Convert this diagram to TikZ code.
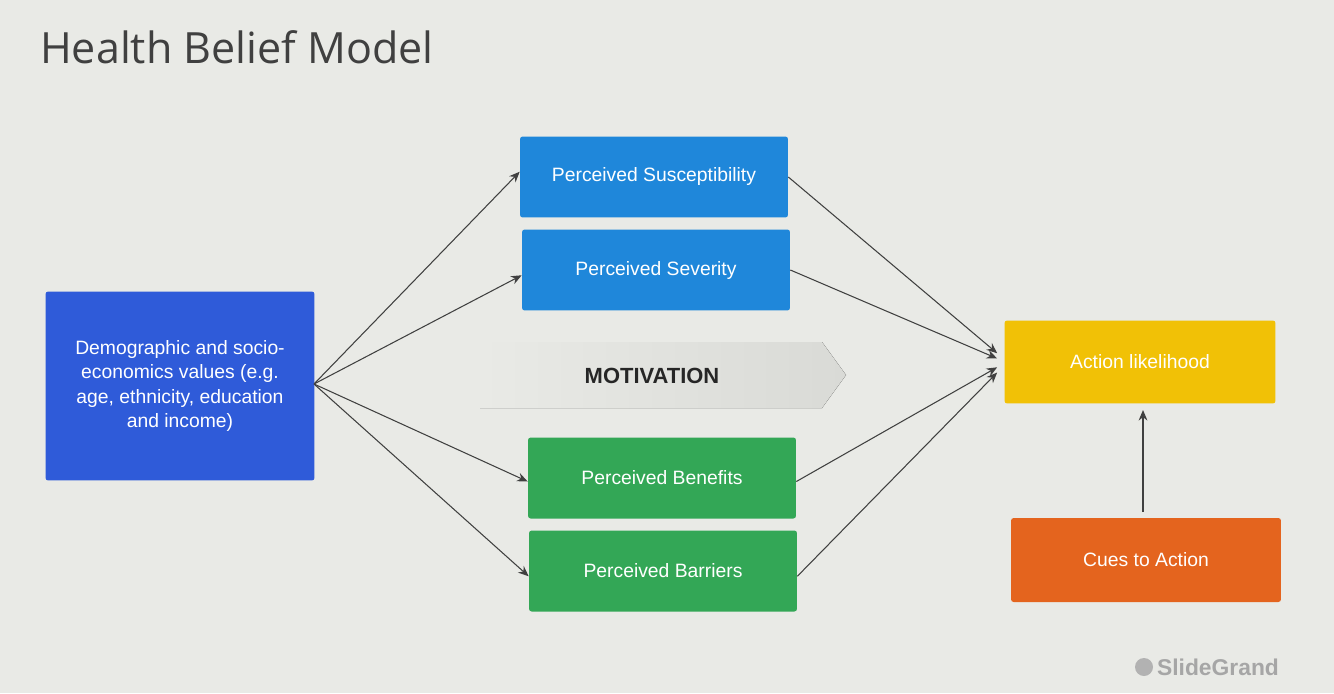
\documentclass[tikz,border=0pt]{standalone}
\usepackage{fontspec}
\setmainfont{Liberation Sans}
\newfontfamily\titlefont{Open Sans}
\usepackage{xcolor}
\usetikzlibrary{arrows.meta, positioning}

\definecolor{slidebg}{HTML}{E9EAE6}
\definecolor{demoblue}{HTML}{2F5BD9}
\definecolor{percblue}{HTML}{1F87DA}
\definecolor{percgreen}{HTML}{33A756}
\definecolor{actyellow}{HTML}{F1C106}
\definecolor{cueorange}{HTML}{E4641E}
\definecolor{motgray}{HTML}{D9DAD6}

\begin{document}
\begin{tikzpicture}[
    x=0.02cm, y=-0.02cm,
    box/.style={rectangle, rounded corners=1.5pt, text=white, font=\fontsize{11}{14}\selectfont,
                minimum width=5.36cm, minimum height=1.62cm, align=center, inner sep=2pt},
    link/.style={-{Stealth[length=6pt, width=5pt]}, draw=black!75, semithick}
]
    % background
    \fill[slidebg] (0,0) rectangle (1334,693);

    % Title
    \node[anchor=base west, text=black!75, font=\titlefont\fontsize{24.5}{28}\selectfont] (title) at (34,63) {Health Belief Model};

    % Motivation band
    \fill[left color=slidebg, right color=motgray] (480,342) -- (822,342) -- (846,375) -- (822,408) -- (480,408) -- cycle;
    \node[font=\bfseries\fontsize{12.5}{14}\selectfont, text=black!85] (motiv) at (652,376) {MOTIVATION};

    % Demographic factors
    \node[box, fill=demoblue, minimum width=5.38cm, minimum height=3.78cm] (demo) at (180,386)
        {Demographic and socio-\\economics values (e.g.\\age, ethnicity, education\\and income)};

    % Perceptions
    \node[box, fill=percblue] (susc) at (654,177) {Perceived Susceptibility};
    \node[box, fill=percblue] (sev) at (656,270) {Perceived Severity};
    \node[box, fill=percgreen] (bene) at (662,478) {Perceived Benefits};
    \node[box, fill=percgreen] (barr) at (663,571) {Perceived Barriers};

    % Outcome
    \node[box, fill=actyellow, minimum width=5.42cm, minimum height=1.66cm] (action) at (1140,362) {Action likelihood};
    \node[box, fill=cueorange, minimum width=5.4cm, minimum height=1.68cm] (cues) at (1146,560) {Cues to Action};

    % Connections
    \coordinate (demoout) at (314,384);
    \draw[link] (demoout) -- ([yshift=3pt]susc.west);
    \draw[link] (demoout) -- ([yshift=-3pt]sev.west);
    \draw[link] (demoout) -- ([yshift=-2pt]bene.west);
    \draw[link] (demoout) -- ([yshift=-3pt]barr.west);

    \draw[link] (susc.east) -- ([shift={(-4pt,5pt)}]action.west);
    \draw[link] (sev.east) -- ([shift={(-4pt,2pt)}]action.west);
    \draw[link] ([yshift=-2pt]bene.east) -- ([shift={(-4pt,-3pt)}]action.west);
    \draw[link] ([yshift=-3pt]barr.east) -- ([shift={(-4pt,-6pt)}]action.west);
    \coordinate (cuesout) at (1143,512);
    \draw[link] (cuesout) -- (cuesout |- 0,410);

    % watermark
    \fill[black!30] (1144,667) circle (9);
    \node[text=black!35, font=\bfseries\fontsize{13}{14}\selectfont] (mark) at (1218,667) {SlideGrand};
\end{tikzpicture}
\end{document}
